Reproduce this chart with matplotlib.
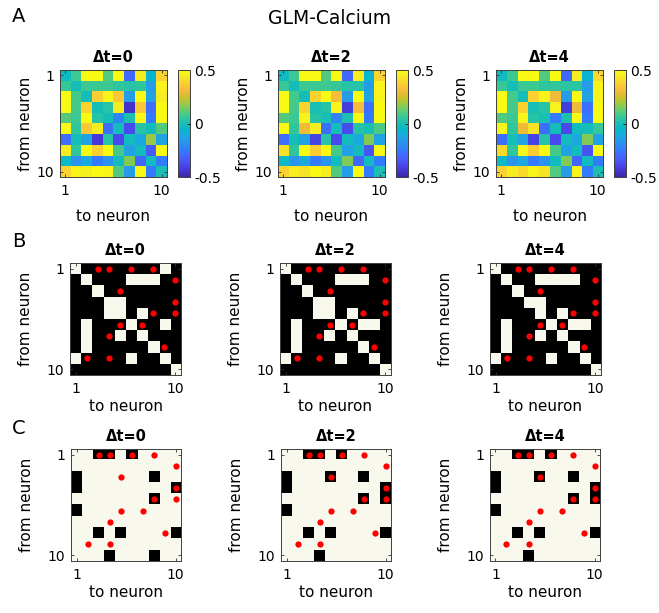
import numpy as np
import matplotlib.pyplot as plt
from matplotlib.colors import LinearSegmentedColormap, ListedColormap

plt.rcParams['font.family'] = 'DejaVu Sans'
plt.rcParams['axes.unicode_minus'] = False

lags = [0, 2, 4]
tick_names = ['1', '10']

# GLM weights on calcium traces, row = from neuron, col = to neuron
glm_0 = [
    [-0.03, 0.07, 0.50, 0.50, 0.10, 0.50, -0.30, 0.45, -0.06, 0.38],
    [0.06, -0.01, 0.07, 0.07, 0.07, 0.05, 0.03, 0.05, -0.15, 0.47],
    [0.50, 0.08, -0.01, 0.37, 0.48, 0.35, -0.15, 0.50, -0.13, 0.45],
    [0.50, 0.08, 0.38, -0.01, 0.03, 0.45, -0.45, 0.35, -0.28, 0.50],
    [0.10, 0.07, 0.50, 0.03, -0.01, -0.22, 0.01, 0.50, -0.25, 0.50],
    [0.50, 0.05, 0.35, 0.45, -0.28, -0.01, -0.38, 0.03, -0.02, 0.10],
    [-0.28, -0.01, -0.13, -0.43, 0.03, -0.38, -0.02, -0.11, 0.18, -0.13],
    [0.45, 0.05, 0.50, 0.38, 0.50, 0.08, -0.13, -0.02, -0.33, 0.50],
    [-0.04, -0.18, -0.11, -0.25, -0.18, -0.02, 0.16, -0.30, -0.02, -0.25],
    [0.38, 0.47, 0.46, 0.50, 0.47, 0.10, -0.15, 0.50, -0.25, 0.00],
]
glm_2 = [
    [-0.03, 0.07, 0.50, 0.50, 0.10, 0.50, -0.30, 0.45, -0.06, 0.38],
    [0.06, -0.01, 0.07, 0.07, 0.07, 0.06, 0.03, 0.03, -0.15, 0.47],
    [0.50, 0.08, -0.01, 0.38, 0.50, 0.32, -0.15, 0.50, -0.13, 0.47],
    [0.50, 0.08, 0.38, 0.00, 0.03, 0.47, -0.42, 0.32, -0.28, 0.50],
    [0.10, 0.07, 0.47, 0.03, 0.00, -0.22, 0.01, 0.50, -0.25, 0.50],
    [0.50, 0.05, 0.30, 0.45, -0.28, -0.01, -0.38, 0.03, 0.00, 0.09],
    [-0.28, -0.01, -0.13, -0.40, 0.03, -0.38, -0.02, -0.11, 0.16, -0.13],
    [0.42, 0.05, 0.50, 0.37, 0.50, 0.08, -0.13, -0.02, -0.35, 0.50],
    [-0.04, -0.18, -0.11, -0.25, -0.18, -0.02, 0.16, -0.30, -0.02, -0.25],
    [0.38, 0.45, 0.42, 0.50, 0.45, 0.10, -0.15, 0.50, -0.25, 0.00],
]
glm_4 = [
    [-0.03, 0.07, 0.50, 0.50, 0.10, 0.50, -0.30, 0.45, -0.06, 0.40],
    [0.06, -0.01, 0.07, 0.07, 0.05, 0.05, 0.04, 0.04, -0.15, 0.47],
    [0.50, 0.08, -0.01, 0.38, 0.47, 0.30, -0.15, 0.50, -0.13, 0.47],
    [0.50, 0.08, 0.38, 0.00, 0.03, 0.47, -0.42, 0.30, -0.28, 0.50],
    [0.10, 0.07, 0.47, 0.03, 0.00, -0.25, 0.01, 0.50, -0.25, 0.50],
    [0.48, 0.05, 0.30, 0.42, -0.28, -0.01, -0.38, -0.02, -0.01, 0.06],
    [-0.28, -0.01, -0.13, -0.40, 0.03, -0.38, -0.02, -0.11, 0.16, -0.13],
    [0.40, 0.05, 0.48, 0.37, 0.50, 0.08, -0.13, -0.02, -0.35, 0.50],
    [-0.04, -0.18, -0.11, -0.25, -0.18, -0.02, 0.16, -0.30, -0.02, -0.25],
    [0.38, 0.45, 0.40, 0.47, 0.42, 0.10, -0.15, 0.47, -0.25, 0.00],
]

# thresholded connectivity (1 = connection inferred)
conn_0 = [
    [1, 0, 0, 0, 0, 0, 0, 0, 1, 0],
    [0, 1, 0, 0, 0, 1, 1, 1, 0, 0],
    [0, 0, 1, 0, 0, 0, 0, 0, 0, 0],
    [0, 0, 0, 1, 1, 0, 0, 0, 0, 0],
    [0, 0, 0, 1, 1, 0, 1, 0, 0, 0],
    [0, 1, 0, 0, 0, 1, 0, 0, 1, 0],
    [0, 1, 0, 0, 1, 0, 1, 0, 0, 0],
    [0, 1, 0, 0, 0, 0, 0, 1, 0, 0],
    [1, 0, 0, 0, 0, 1, 0, 0, 1, 0],
    [0, 0, 0, 0, 0, 0, 0, 0, 0, 1],
]
conn_2 = [
    [1, 0, 0, 0, 0, 0, 0, 0, 0, 0],
    [0, 1, 0, 0, 0, 1, 1, 1, 0, 0],
    [0, 0, 1, 0, 0, 0, 0, 0, 0, 0],
    [0, 0, 0, 1, 1, 0, 0, 0, 0, 0],
    [0, 0, 0, 1, 1, 0, 1, 0, 0, 0],
    [0, 1, 0, 0, 0, 1, 0, 1, 1, 0],
    [0, 1, 0, 0, 1, 0, 1, 0, 0, 0],
    [0, 1, 0, 0, 0, 0, 0, 1, 0, 0],
    [1, 0, 0, 0, 0, 1, 0, 0, 1, 0],
    [0, 0, 0, 0, 0, 0, 0, 0, 0, 1],
]
conn_4 = [
    [1, 0, 0, 0, 0, 0, 0, 0, 0, 0],
    [0, 1, 0, 0, 1, 1, 1, 1, 0, 0],
    [0, 0, 1, 0, 0, 0, 0, 0, 0, 0],
    [0, 0, 0, 1, 1, 0, 0, 0, 0, 0],
    [0, 0, 0, 0, 1, 0, 1, 0, 0, 0],
    [0, 1, 0, 0, 0, 1, 0, 1, 1, 0],
    [0, 1, 0, 0, 1, 0, 1, 0, 0, 0],
    [0, 1, 0, 0, 0, 0, 0, 1, 0, 0],
    [1, 0, 0, 0, 0, 1, 0, 0, 1, 0],
    [0, 0, 0, 0, 0, 0, 0, 0, 0, 1],
]

# significance maps (1 = black cell)
sig_0 = [
    [0, 0, 1, 1, 0, 1, 0, 0, 0, 0],
    [0, 0, 0, 0, 0, 0, 0, 0, 0, 0],
    [1, 0, 0, 0, 0, 0, 0, 1, 0, 0],
    [1, 0, 0, 0, 0, 0, 0, 0, 0, 1],
    [0, 0, 0, 0, 0, 0, 0, 1, 0, 0],
    [1, 0, 0, 0, 0, 0, 0, 0, 0, 0],
    [0, 0, 0, 0, 0, 0, 0, 0, 0, 0],
    [0, 0, 1, 0, 1, 0, 0, 0, 0, 1],
    [0, 0, 0, 0, 0, 0, 0, 0, 0, 0],
    [0, 0, 0, 1, 0, 0, 0, 1, 0, 0],
]
sig_2 = [
    [0, 0, 1, 1, 0, 1, 0, 0, 0, 0],
    [0, 0, 0, 0, 0, 0, 0, 0, 0, 0],
    [1, 0, 0, 0, 1, 0, 0, 1, 0, 0],
    [1, 0, 0, 0, 0, 0, 0, 0, 0, 1],
    [0, 0, 0, 0, 0, 0, 0, 1, 0, 1],
    [1, 0, 0, 0, 0, 0, 0, 0, 0, 0],
    [0, 0, 0, 0, 0, 0, 0, 0, 0, 0],
    [0, 0, 1, 0, 1, 0, 0, 0, 0, 1],
    [0, 0, 0, 0, 0, 0, 0, 0, 0, 0],
    [0, 0, 0, 1, 0, 0, 0, 0, 0, 0],
]
sig_4 = [
    [0, 0, 1, 1, 0, 1, 0, 0, 0, 0],
    [0, 0, 0, 0, 0, 0, 0, 0, 0, 0],
    [1, 0, 0, 0, 1, 0, 0, 1, 0, 0],
    [1, 0, 0, 0, 0, 0, 0, 0, 0, 1],
    [0, 0, 0, 0, 0, 0, 0, 1, 0, 1],
    [1, 0, 0, 0, 0, 0, 0, 0, 0, 0],
    [0, 0, 0, 0, 0, 0, 0, 0, 0, 0],
    [0, 0, 1, 0, 1, 0, 0, 0, 0, 1],
    [0, 0, 0, 0, 0, 0, 0, 0, 0, 0],
    [0, 0, 0, 1, 0, 0, 0, 0, 0, 0],
]

# ground truth synapses (1-based neuron ids)
true_from = [1, 1, 1, 1, 2, 3, 4, 5, 5, 6, 6, 7, 8, 9, 9]
true_to = [3, 4, 6, 8, 10, 5, 10, 8, 10, 5, 7, 4, 9, 2, 4]

# parula, every 4th entry of the 64-colour table
parula = LinearSegmentedColormap.from_list('parula', [
    (0.2422, 0.1504, 0.6603), (0.2706, 0.2147, 0.8364), (0.2813, 0.3006, 0.9414),
    (0.2699, 0.3892, 0.9906), (0.1963, 0.4847, 0.9892), (0.1687, 0.5703, 0.9359),
    (0.1248, 0.6459, 0.8883), (0.0297, 0.7082, 0.8163), (0.0964, 0.7500, 0.7120),
    (0.2161, 0.7843, 0.5923), (0.3909, 0.8029, 0.4354), (0.6174, 0.7876, 0.2612),
    (0.8203, 0.7498, 0.1535), (0.9728, 0.7298, 0.2394), (0.9892, 0.8136, 0.1885),
    (0.9597, 0.9135, 0.1423), (0.9769, 0.9839, 0.0805)])
cream = '#f8f8ec'
cmap_conn = ListedColormap(['black', cream])
cmap_sig = ListedColormap([cream, 'black'])

W, H = 659.0, 613.0
fig = plt.figure(figsize=(W / 100, H / 100), dpi=100)


def add_ax(left, top, w, h):
    return fig.add_axes([left / W, 1 - (top + h) / H, w / W, h / H])


def style(ax, lag, ylab_dx, xlab_dy):
    ax.set_xticks([0, 9])
    ax.set_xticklabels(tick_names)
    ax.set_yticks([0, 9])
    ax.set_yticklabels(tick_names)
    ax.tick_params(direction='in', length=2.5, width=0.6, color='0.2',
                   labelsize=10, top=True, right=True)
    ax.tick_params(axis='x', pad=5)
    ax.tick_params(axis='y', pad=4)
    for s in ax.spines.values():
        s.set_color('0.25')
        s.set_linewidth(0.7)
    ax.set_title('\u0394t=%d' % lag, fontsize=10.5, fontweight='bold', pad=6)
    ax.set_xlabel('to neuron', fontsize=11)
    ax.set_ylabel('from neuron', fontsize=11)
    bb = ax.get_position()
    ax.yaxis.set_label_coords(ylab_dx / (bb.width * W), 0.5)
    ax.xaxis.set_label_coords(0.5, xlab_dy / (bb.height * H))


def true_dots(ax):
    ax.plot(np.array(true_to) - 1, np.array(true_from) - 1, 'o', color='#ff0000',
            ms=4.5, mec='none', ls='none')


# A: GLM weights
for k, (lag, m) in enumerate(zip(lags, [glm_0, glm_2, glm_4])):
    left = [60, 278, 496][k]
    ax = add_ax(left, 70, 107, 107)
    im = ax.imshow(np.array(m), cmap=parula, vmin=-0.5, vmax=0.5,
                   interpolation='nearest', aspect='auto')
    style(ax, lag, -27, -32)
    cax = add_ax(left + 118, 70, 12, 107)
    cb = fig.colorbar(im, cax=cax, ticks=[-0.5, 0, 0.5])
    cb.ax.set_yticklabels(['-0.5', '0', '0.5'])
    cb.ax.tick_params(direction='in', length=2, width=0.6, labelsize=10, pad=3)
    cb.outline.set_linewidth(0.7)
    cb.outline.set_edgecolor('0.25')

# B: inferred connections
for k, (lag, m) in enumerate(zip(lags, [conn_0, conn_2, conn_4])):
    ax = add_ax([70, 280, 490][k], 263, 111, 112)
    ax.imshow(np.array(m), cmap=cmap_conn, vmin=0, vmax=1,
              interpolation='nearest', aspect='auto')
    true_dots(ax)
    ax.set_xlim(-0.5, 9.5)
    ax.set_ylim(9.5, -0.5)
    style(ax, lag, -37, -24)

# C: significance
for k, (lag, m) in enumerate(zip(lags, [sig_0, sig_2, sig_4])):
    ax = add_ax([71, 281, 490][k], 449, 110, 112)
    ax.imshow(np.array(m), cmap=cmap_sig, vmin=0, vmax=1,
              interpolation='nearest', aspect='auto')
    true_dots(ax)
    ax.set_xlim(-0.5, 9.5)
    ax.set_ylim(9.5, -0.5)
    style(ax, lag, -37, -24)

fig.text(330 / W, 1 - 18 / H, 'GLM-Calcium', fontsize=13.5, ha='center', va='center')
fig.text(12 / W, 1 - 16 / H, 'A', fontsize=14, va='center')
fig.text(12 / W, 1 - 242 / H, 'B', fontsize=14, va='center')
fig.text(12 / W, 1 - 428 / H, 'C', fontsize=14, va='center')

fig.savefig('out.png', dpi=100)
